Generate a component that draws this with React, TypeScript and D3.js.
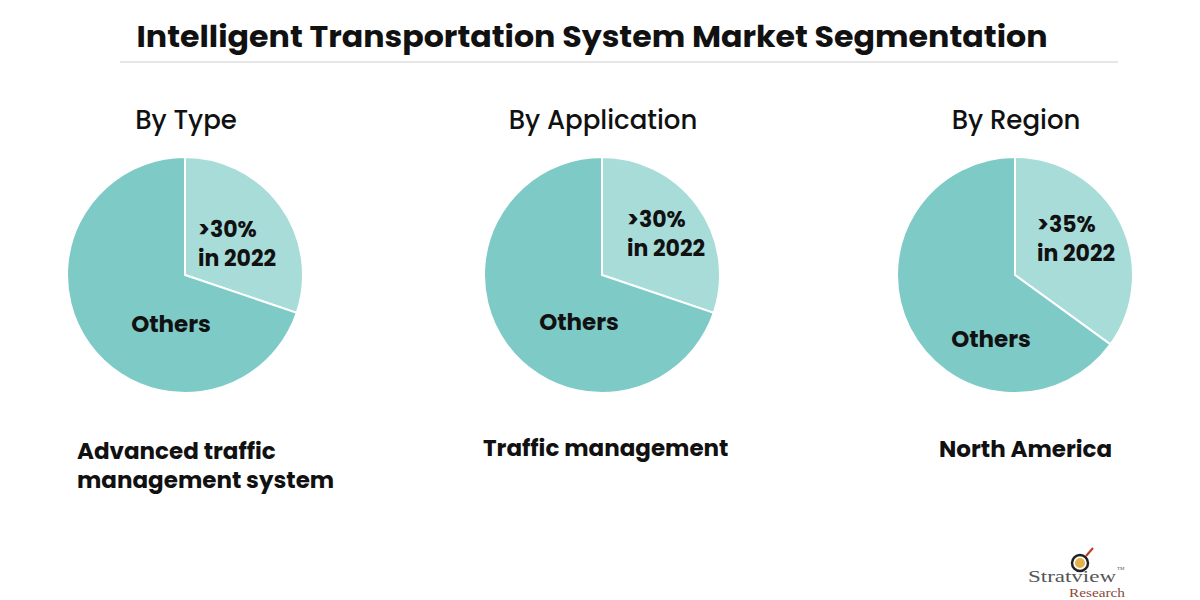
import React from "react";
import * as d3 from "d3";

const TITLE = "Intelligent Transportation System Market Segmentation";
const SEGMENTS = ["By Type", "By Application", "By Region"];
const LEADER_SHARE = [30.2, 30.2, 35];
const LEADER_LABEL = [">30%", ">30%", ">35%"];
const LEADER_YEAR = ["in 2022", "in 2022", "in 2022"];
const OTHERS_LABEL = "Others";
const LEADER_NAME = [["Advanced traffic", "management system"], ["Traffic management"], ["North America"]];

const CENTERS_X = [185, 602, 1015];
const CY = 275;
const R = 118;
const COLOR_LEAD = "#a7dcd9";
const COLOR_OTHER = "#7dcac7";
const FONT = "Poppins, 'Open Sans', 'Noto Sans', sans-serif";

export default function App() {
  const pie = d3.pie<number>().sort(null).value((d) => d);
  const arc = d3.arc<d3.PieArcDatum<number>>().innerRadius(0).outerRadius(R);
  // label anchor offsets relative to pie centre
  const leadOffsets = [[13, -38], [25, -48], [22, -43]];
  const otherOffsets = [[-14, 57], [-23, 55], [-24, 72]];
  const nameX = [77, 483, 939];
  const nameY = [459, 456, 457];

  return (
    <svg width={1200} height={600} style={{ display: "block", position: "absolute", left: 0, top: 0, background: "#fff" }}>
      <rect x={0} y={0} width={1200} height={600} fill="#fff" />
      <text x={592} y={47} textAnchor="middle" fontFamily={FONT} fontWeight={700} fontSize={29} fill="#111"
        textLength={911} lengthAdjust="spacingAndGlyphs">{TITLE}</text>
      <line x1={120} x2={1118} y1={62} y2={62} stroke="#e6e6e6" strokeWidth={2} />
      {SEGMENTS.map((seg, i) => {
        const arcs = pie([LEADER_SHARE[i], 100 - LEADER_SHARE[i]]);
        const cx = CENTERS_X[i];
        const [lx, ly] = leadOffsets[i];
        return (
          <g key={seg}>
            <text x={cx + 1} y={129} textAnchor="middle" fontFamily={FONT} fontWeight={500} fontSize={26} fill="#111">{seg}</text>
            <g transform={`translate(${cx},${CY})`}>
              {arcs.map((a, j) => (
                <path key={j} d={arc(a) || ""} fill={j === 0 ? COLOR_LEAD : COLOR_OTHER} stroke="#fff" strokeWidth={2} />
              ))}
              <text x={lx} y={ly} fontFamily={FONT} fontWeight={700} fontSize={22} fill="#111">{LEADER_LABEL[i]}</text>
              <text x={lx} y={ly + 29} fontFamily={FONT} fontWeight={700} fontSize={22} fill="#111">{LEADER_YEAR[i]}</text>
              <text x={otherOffsets[i][0]} y={otherOffsets[i][1]} textAnchor="middle" fontFamily={FONT} fontWeight={700} fontSize={23} fill="#111">{OTHERS_LABEL}</text>
            </g>
            {LEADER_NAME[i].map((line, k) => (
              <text key={k} x={nameX[i]} y={nameY[i] + k * 29} fontFamily={FONT} fontWeight={700} fontSize={23} fill="#111">{line}</text>
            ))}
          </g>
        );
      })}
      <g>
        <circle cx={1080} cy={563} r={8} fill="none" stroke="#222" strokeWidth={2.5} />
        <circle cx={1080} cy={563} r={5} fill="#e6b04a" />
        <line x1={1086} y1={556} x2={1093} y2={548} stroke="#c0392b" strokeWidth={2} />
        <text x={1028} y={582} fontFamily="'Liberation Serif', serif" fontSize={17} fill="#555" textLength={88} lengthAdjust="spacingAndGlyphs">Stratview</text>
        <text x={1117} y={570} fontFamily="'Liberation Serif', serif" fontSize={5} fill="#555">TM</text>
        <text x={1069} y={597} fontFamily="'Liberation Serif', serif" fontSize={13} fill="#8b4a3a" textLength={56} lengthAdjust="spacingAndGlyphs">Research</text>
      </g>
    </svg>
  );
}
